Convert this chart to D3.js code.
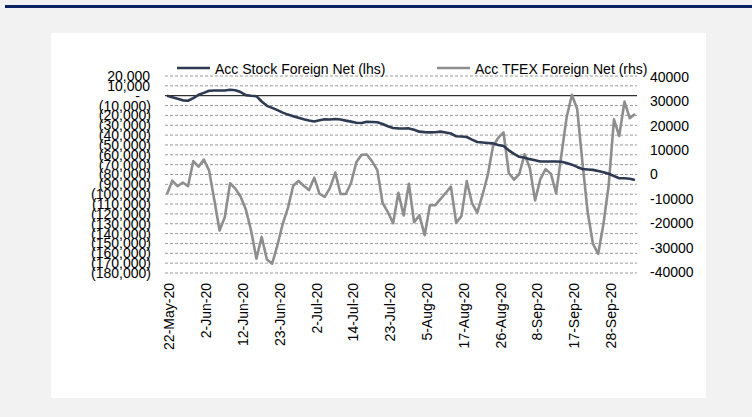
<!DOCTYPE html>
<head>
<style type="text/css">
	body { margin: 0; background: #f2f2f2; }
	text { font-family: Arial, "Liberation Sans", sans-serif; fill: #000; }
</style>
</head>
<script src="https://d3js.org/d3.v7.min.js"></script>
<body>
	<svg width="752" height="417"></svg>
	<script>
	// trading days shown on the chart
	var dates = [
		"22-May-20","25-May-20","26-May-20","27-May-20","28-May-20","29-May-20",
		"1-Jun-20","2-Jun-20","4-Jun-20","5-Jun-20","8-Jun-20","9-Jun-20","10-Jun-20","11-Jun-20","12-Jun-20",
		"15-Jun-20","16-Jun-20","17-Jun-20","18-Jun-20","19-Jun-20","22-Jun-20","23-Jun-20","24-Jun-20",
		"25-Jun-20","26-Jun-20","29-Jun-20","30-Jun-20",
		"1-Jul-20","2-Jul-20","3-Jul-20","7-Jul-20","8-Jul-20","9-Jul-20","10-Jul-20","13-Jul-20","14-Jul-20",
		"15-Jul-20","16-Jul-20","17-Jul-20","20-Jul-20","21-Jul-20","22-Jul-20","23-Jul-20","24-Jul-20",
		"29-Jul-20","30-Jul-20","31-Jul-20",
		"3-Aug-20","4-Aug-20","5-Aug-20","6-Aug-20","7-Aug-20","10-Aug-20","11-Aug-20","13-Aug-20","14-Aug-20",
		"17-Aug-20","18-Aug-20","19-Aug-20","20-Aug-20","21-Aug-20","24-Aug-20","25-Aug-20","26-Aug-20",
		"27-Aug-20","28-Aug-20","31-Aug-20",
		"1-Sep-20","2-Sep-20","3-Sep-20","8-Sep-20","9-Sep-20","10-Sep-20","11-Sep-20","14-Sep-20","15-Sep-20",
		"16-Sep-20","17-Sep-20","18-Sep-20","21-Sep-20","22-Sep-20","23-Sep-20","24-Sep-20","25-Sep-20",
		"28-Sep-20","29-Sep-20","30-Sep-20",
		"1-Oct-20","2-Oct-20","5-Oct-20"
	];

	// Acc Stock Foreign Net (lhs), THB m
	var stockNet = [
		0,-1600,-3100,-4700,-5100,-2400,900,2900,5000,5300,5300,5300,6000,5600,3700,600,
		-100,-500,-5900,-10300,-12400,-14700,-17200,-19200,-20800,-22300,-23900,-25200,-26200,-24900,
		-24000,-24200,-23700,-24100,-25300,-26300,-27400,-27700,-26400,-26700,-27000,-28800,-31000,
		-32800,-33200,-33300,-33200,-34600,-36500,-37000,-37200,-37100,-36500,-37400,-38400,-41200,
		-41400,-41900,-44600,-47000,-47500,-48000,-48400,-50000,-51100,-55500,-59100,-62000,-62900,
		-64400,-65600,-66800,-66800,-66800,-66800,-67000,-68300,-70000,-72300,-74400,-74900,-75300,
		-76500,-77800,-79300,-81500,-83800,-83800,-84300,-85500
	];

	// Acc TFEX Foreign Net (rhs), contracts
	var tfexNet = [
		-8100,-2500,-4800,-3300,-4800,5500,3200,6100,1700,-10500,-23000,-17400,-3600,-5800,-9100,
		-14400,-23100,-34500,-25600,-34900,-36600,-29000,-20300,-13700,-4600,-2700,-4600,-6400,-1300,
		-7900,-9200,-5500,800,-8000,-8000,-3500,5000,8100,8200,5400,1800,-11700,-15400,-20000,-7500,
		-16800,-3800,-19600,-16700,-24900,-12600,-12600,-10100,-7600,-5000,-19800,-17100,-2700,-11700,
		-15600,-8400,-200,11600,15100,17300,600,-2100,200,8300,2700,-10600,-1900,2200,300,-7700,8000,
		23500,32700,26900,5100,-15400,-28400,-32600,-20300,-4300,22600,15800,29900,23100,24800
	];

	var leftTicks = d3.range(20000, -180001, -10000);
	var rightTicks = d3.range(40000, -40001, -10000);
	var legendNames = ["Acc Stock Foreign Net (lhs)", "Acc TFEX Foreign Net (rhs)"];
	var lineColors = ["#2e3a52", "#8e8e8e"];

	var svg = d3.select("svg");

	// frame: navy rule on top, white chart panel
	svg.append("rect").attr("x", 5).attr("y", 5).attr("width", 747).attr("height", 3).attr("fill", "#0b2263");
	svg.append("rect").attr("x", 51).attr("y", 33).attr("width", 655).attr("height", 365).attr("fill", "#fff");

	var x = d3.scaleLinear()
		.domain([0, dates.length - 1])
		.range([167, 635]);

	var yL = d3.scaleLinear()
		.domain([-180000, 20000])
		.range([273, 76]);

	var yR = d3.scaleLinear()
		.domain([-40000, 40000])
		.range([272, 77]);

	var plotLeft = 165, plotRight = 637;

	// dashed gridlines at the lhs ticks
	svg.append("g")
		.selectAll("line")
		.data(leftTicks.filter(function(d) { return d != 0; }))
		.enter().append("line")
		.attr("x1", plotLeft).attr("x2", plotRight)
		.attr("y1", function(d) { return yL(d); })
		.attr("y2", function(d) { return yL(d); })
		.attr("stroke", "#9a9a9a")
		.attr("stroke-dasharray", "3,2");

	svg.append("line")
		.attr("x1", plotLeft).attr("x2", plotRight)
		.attr("y1", yL(0)).attr("y2", yL(0))
		.attr("stroke", "#000");

	// lhs axis in accounting format
	var fmt = d3.format(",");
	var gl = svg.append("g")
		.attr("transform", "translate(151,0)")
		.call(d3.axisLeft(yL)
			.tickValues(leftTicks)
			.tickSize(0)
			.tickPadding(0)
			.tickFormat(function(d) {
				if (d == 0) return "-";
				return d < 0 ? "(" + fmt(-d) + ")" : fmt(d);
			}));
	gl.select(".domain").remove();
	gl.selectAll("text")
		.attr("font-size", "14px")
		.attr("fill", "#000")
		.attr("dx", function(d) { return d == 0 ? -11 : (d > 0 ? -1 : 0); });

	var gr = svg.append("g")
		.attr("transform", "translate(650,0)")
		.call(d3.axisRight(yR)
			.tickValues(rightTicks)
			.tickSize(0)
			.tickPadding(0)
			.tickFormat(function(d) { return d; }));
	gr.select(".domain").remove();
	gr.selectAll("text").attr("font-size", "14px").attr("fill", "#000");

	// date labels, every 7th trading day
	var gx = svg.append("g")
		.attr("transform", "translate(0,283)")
		.call(d3.axisBottom(x)
			.tickValues(d3.range(0, dates.length, 7))
			.tickSize(0)
			.tickFormat(function(i) { return dates[i]; }));
	gx.select(".domain").remove();
	gx.selectAll("text")
		.attr("font-size", "14px")
		.attr("fill", "#000")
		.attr("text-anchor", "end")
		.attr("transform", "rotate(-90)")
		.attr("x", 0)
		.attr("y", 2)
		.attr("dy", "0.35em");

	var lineL = d3.line()
		.x(function(d, i) { return x(i); })
		.y(function(d) { return yL(d); });

	var lineR = d3.line()
		.x(function(d, i) { return x(i); })
		.y(function(d) { return yR(d); });

	svg.append("path")
		.datum(tfexNet)
		.attr("d", lineR)
		.attr("fill", "none")
		.attr("stroke", lineColors[1])
		.attr("stroke-width", 2.6)
		.attr("stroke-linejoin", "round");

	svg.append("path")
		.datum(stockNet)
		.attr("d", lineL)
		.attr("fill", "none")
		.attr("stroke", lineColors[0])
		.attr("stroke-width", 2.6)
		.attr("stroke-linejoin", "round");

	// legend
	var legend = svg.append("g")
		.selectAll("g")
		.data(legendNames)
		.enter().append("g")
		.attr("transform", function(d, i) { return "translate(" + [177, 437][i] + ",68)"; });

	legend.append("line")
		.attr("x1", 0).attr("x2", 33)
		.attr("stroke", function(d, i) { return lineColors[i]; })
		.attr("stroke-width", 2.6);

	legend.append("text")
		.attr("x", 38)
		.attr("y", 5.5)
		.attr("font-size", "14px")
		.text(function(d) { return d; });
	</script>
</body>
